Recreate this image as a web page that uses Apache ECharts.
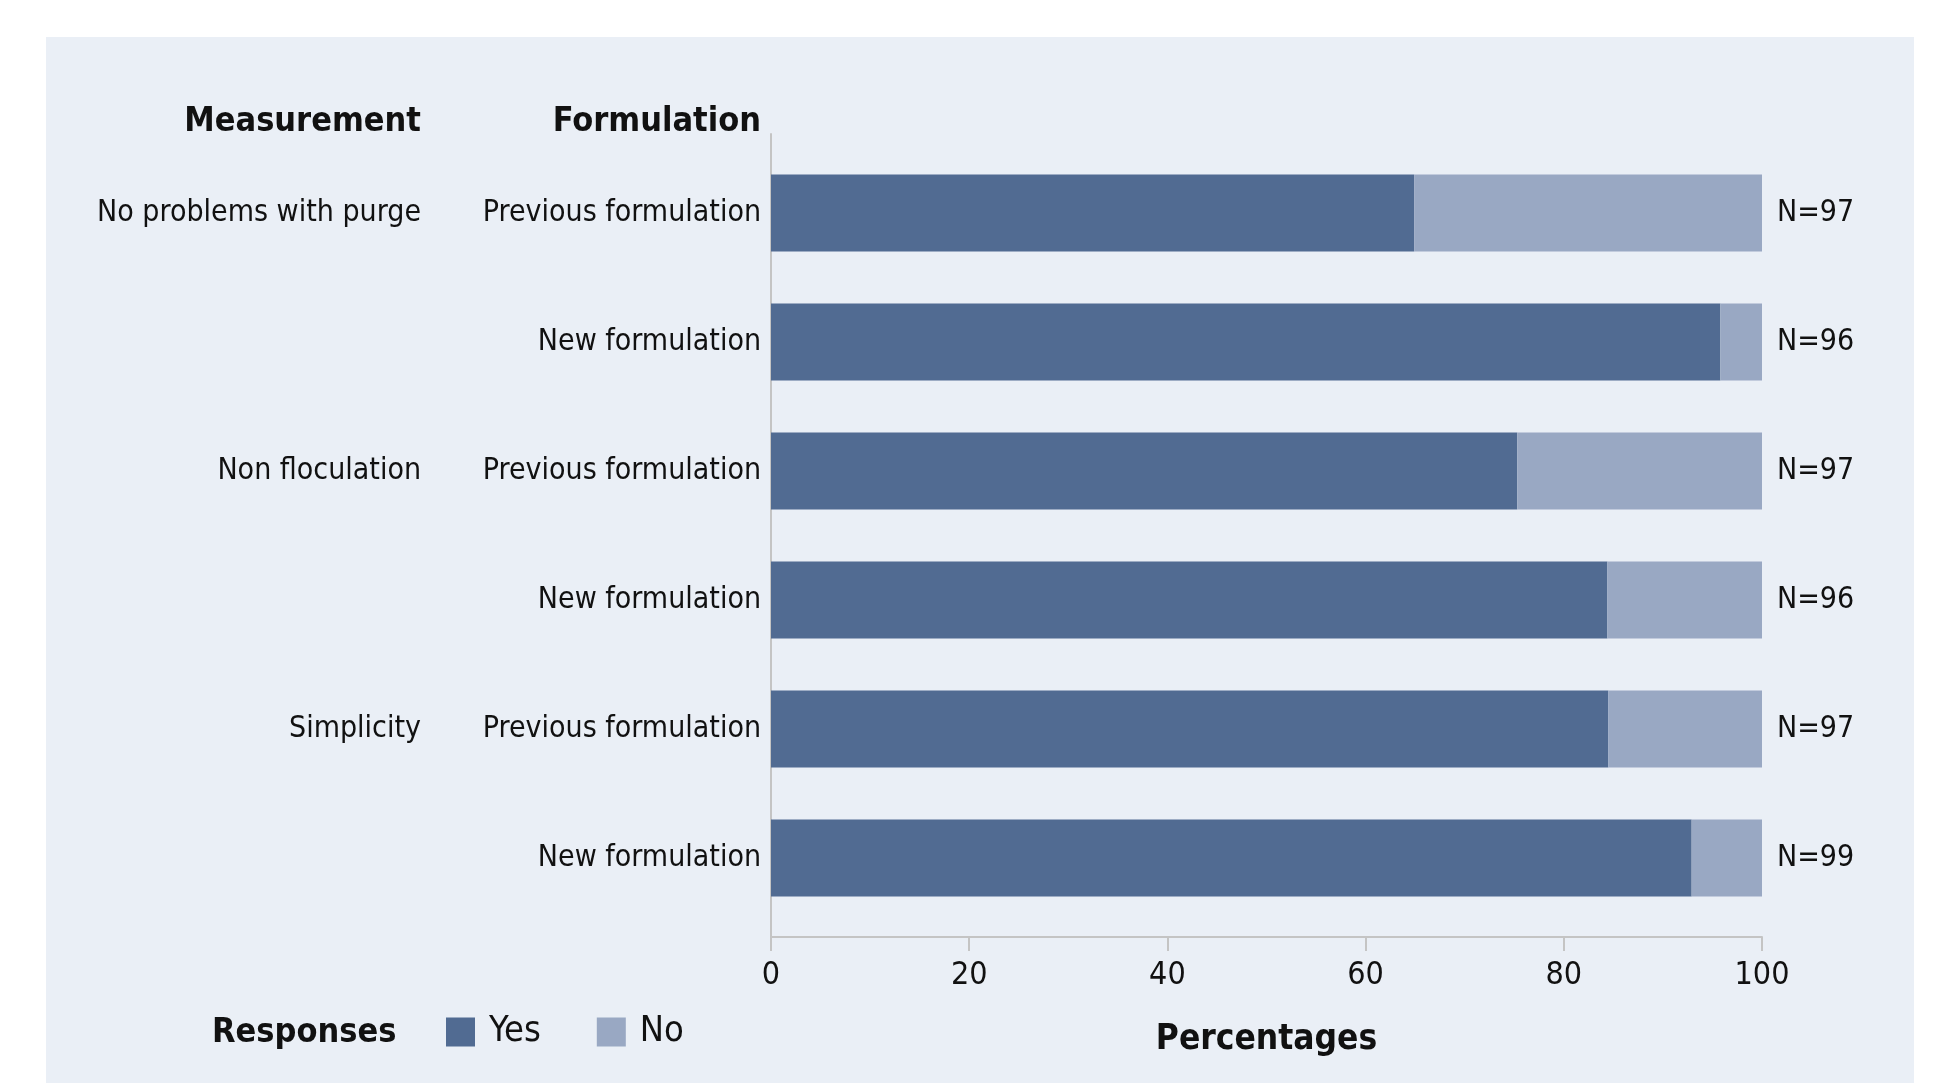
<!DOCTYPE html>
<html>
<head>
<meta charset="utf-8">
<script src="https://cdn.jsdelivr.net/npm/echarts@6/dist/echarts.min.js"></script>
<style>
  html, body { margin: 0; padding: 0; background: #fff; }
  #main { width: 1943px; height: 1083px; }
</style>
</head>
<body>
<div id="main"></div>
<script>
// data
var formulations = ['Previous formulation', 'New formulation', 'Previous formulation', 'New formulation', 'Previous formulation', 'New formulation'];
var measurements = ['No problems with purge', '', 'Non floculation', '', 'Simplicity', ''];
var yesPct = [64.9, 95.8, 75.3, 84.4, 84.5, 92.9];
var noPct = [35.1, 4.2, 24.7, 15.6, 15.5, 7.1];
var nCounts = [97, 96, 97, 96, 97, 99];
var xMin = 0, xMax = 100, xStep = 20;

var FONT = '"Liberation Sans Narrow", "DejaVu Sans Condensed", "Liberation Sans", sans-serif';
var AXIS_COLOR = '#c4c4c4';

var myChart = echarts.init(document.getElementById('main'));
var option = {
    backgroundColor: '#ffffff',
    animation: false,
    textStyle: { fontFamily: FONT, color: '#111' },
    color: ['#516b92', '#99a8c3'],
    graphic: [
        { type: 'rect', z: -10, silent: true,
          shape: { x: 46, y: 37, width: 1868, height: 1046 },
          style: { fill: '#eaeff6' } }
    ],
    title: [
        { text: 'Measurement', right: 1943 - 421, top: 105, padding: 0,
          textStyle: { fontFamily: FONT, fontSize: 34, fontWeight: 'bold', color: '#111' } },
        { text: 'Formulation', right: 1943 - 761, top: 105, padding: 0,
          textStyle: { fontFamily: FONT, fontSize: 34, fontWeight: 'bold', color: '#111' } },
        { text: 'Responses', left: 212, top: 1016, padding: 0,
          textStyle: { fontFamily: FONT, fontSize: 34, fontWeight: 'bold', color: '#111' } }
    ],
    legend: {
        data: ['Yes', 'No'],
        left: 446,
        top: 1014,
        padding: 0,
        icon: 'rect',
        itemWidth: 29,
        itemHeight: 29,
        itemGap: 56,
        textStyle: { fontFamily: FONT, fontSize: 36, color: '#111', padding: [0, 0, 0, 9] }
    },
    grid: [
        // bars
        { left: 771, top: 148.5, width: 991, height: 774, containLabel: false },
        // frame with the axis lines
        { left: 771, top: 134, width: 991, height: 803, containLabel: false }
    ],
    xAxis: [
        { type: 'value', gridIndex: 0, min: xMin, max: xMax, interval: xStep, show: false },
        {
            type: 'value', gridIndex: 1, min: xMin, max: xMax, interval: xStep,
            name: 'Percentages',
            nameLocation: 'middle',
            nameGap: 85,
            nameTextStyle: { fontFamily: FONT, fontSize: 35, fontWeight: 'bold', color: '#111' },
            axisLine: { show: true, lineStyle: { color: AXIS_COLOR, width: 2 } },
            axisTick: { show: true, length: 14, lineStyle: { color: AXIS_COLOR, width: 2 } },
            axisLabel: { fontFamily: FONT, fontSize: 32, color: '#111', margin: 23 },
            splitLine: { show: false }
        }
    ],
    yAxis: [
        {
            type: 'category', gridIndex: 0, inverse: true,
            data: formulations,
            axisLine: { show: false },
            axisTick: { show: false },
            axisLabel: { interval: 0, fontFamily: FONT, fontSize: 30, color: '#111', margin: 10 }
        },
        {
            type: 'category', gridIndex: 0, inverse: true, position: 'left', offset: 340,
            data: measurements,
            axisLine: { show: false },
            axisTick: { show: false },
            axisLabel: { interval: 0, fontFamily: FONT, fontSize: 30, color: '#111', margin: 10 }
        },
        {
            type: 'category', gridIndex: 1, data: [],
            axisLine: { show: true, lineStyle: { color: AXIS_COLOR, width: 2 } },
            axisTick: { show: false },
            axisLabel: { show: false }
        }
    ],
    series: [
        {
            name: 'Yes', type: 'bar', stack: 'total',
            xAxisIndex: 0, yAxisIndex: 0,
            barWidth: 77,
            data: yesPct
        },
        {
            name: 'No', type: 'bar', stack: 'total',
            xAxisIndex: 0, yAxisIndex: 0,
            barWidth: 77,
            label: {
                show: true,
                position: 'right',
                distance: 15,
                fontFamily: FONT,
                fontSize: 30,
                color: '#111',
                formatter: function(p) { return 'N=' + nCounts[p.dataIndex]; }
            },
            data: noPct
        }
    ]
};
myChart.setOption(option);
</script>
</body>
</html>
